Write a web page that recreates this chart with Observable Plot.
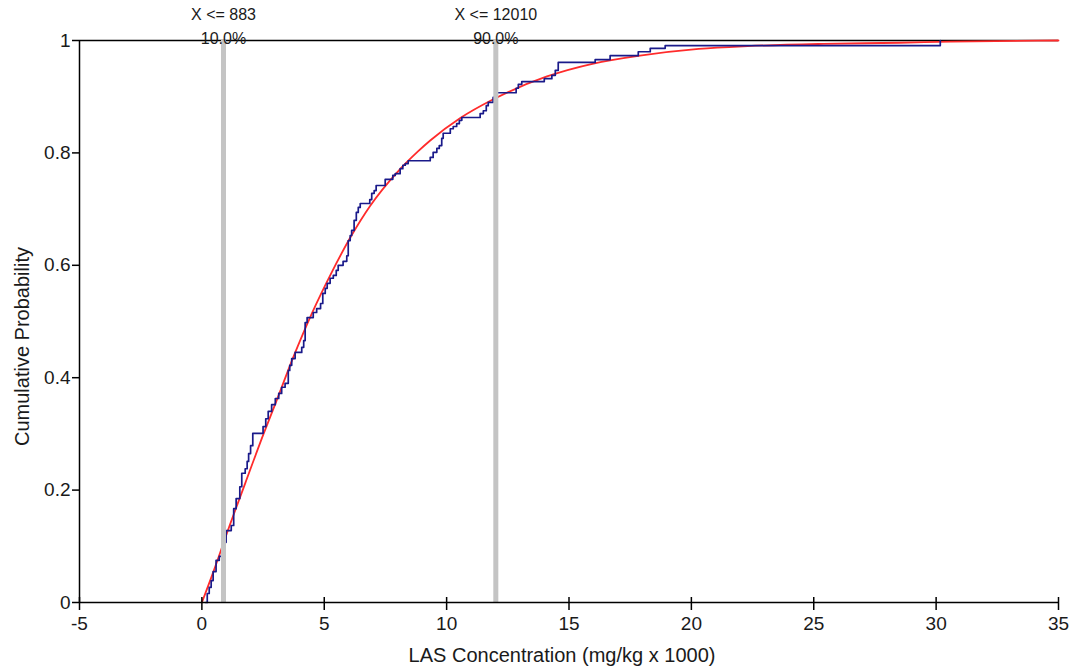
<!DOCTYPE html>
<html>
<head>
<meta charset="utf-8">
<script src="https://cdn.jsdelivr.net/npm/d3@7"></script>
<script src="https://cdn.jsdelivr.net/npm/@observablehq/plot@0.6"></script>
<style>
  html, body { margin: 0; padding: 0; background: #fff; }
  #chart { width: 1073px; height: 666px; }
</style>
</head>
<body>
<div id="chart"></div>
<script>
// Empirical cumulative distribution (step curve)
const ecdfX = [0.16,0.22,0.30,0.38,0.46,0.58,0.71,0.91,0.99,1.20,1.30,1.40,1.55,1.63,1.77,1.85,1.91,1.99,2.08,2.50,2.61,2.71,2.85,3.00,3.14,3.26,3.40,3.53,3.59,3.67,3.81,4.08,4.16,4.22,4.30,4.55,4.69,4.85,4.94,5.04,5.12,5.24,5.37,5.49,5.57,5.77,5.92,5.98,6.06,6.12,6.22,6.31,6.39,6.47,6.86,6.94,7.04,7.12,7.49,7.80,7.90,8.10,8.21,8.31,8.43,9.33,9.45,9.60,9.70,9.80,9.86,10.15,10.27,10.41,10.52,10.62,11.37,11.50,11.62,11.70,11.90,12.03,12.84,12.93,13.07,13.99,14.30,14.44,14.56,16.07,16.68,17.83,18.32,18.93,30.17];
const ecdfP = [0,0.016,0.027,0.039,0.055,0.075,0.082,0.107,0.128,0.137,0.167,0.185,0.206,0.230,0.238,0.251,0.265,0.279,0.301,0.313,0.327,0.340,0.352,0.363,0.372,0.383,0.390,0.413,0.422,0.434,0.445,0.454,0.466,0.498,0.507,0.516,0.523,0.532,0.550,0.559,0.568,0.577,0.582,0.591,0.600,0.607,0.617,0.644,0.653,0.662,0.680,0.694,0.703,0.710,0.717,0.728,0.733,0.742,0.753,0.760,0.763,0.772,0.778,0.781,0.786,0.792,0.801,0.808,0.813,0.826,0.835,0.843,0.847,0.852,0.858,0.863,0.870,0.875,0.884,0.890,0.899,0.907,0.915,0.922,0.927,0.932,0.938,0.947,0.961,0.966,0.973,0.980,0.986,0.991,1.000];

// Fitted distribution (smooth curve)
const fitX = [0,0.54,1.02,1.77,2.52,3.06,3.74,4.5,5.31,6.1,6.88,7.97,8.84,9.33,10.56,11.85,14.1,16.0,17.9,20.3,22.3,25.4,28.5,30.6,35];
const fitP = [0,0.063,0.123,0.212,0.300,0.360,0.437,0.515,0.588,0.652,0.706,0.765,0.803,0.822,0.862,0.894,0.936,0.959,0.973,0.985,0.990,0.994,0.996,0.998,1.0];

// Percentile markers
const pctX = [0.883, 12.01];
const pctValueLabel = ["X <= 883", "X <= 12010"];
const pctProbLabel = ["10.0%", "90.0%"];

// Axes
const xTicks = [-5,0,5,10,15,20,25,30,35];
const yTicks = [0,0.2,0.4,0.6,0.8,1];
const xTitle = "LAS Concentration (mg/kg x 1000)";
const yTitle = "Cumulative Probability";

const ecdf = ecdfX.map((x, i) => ({x, p: ecdfP[i]}));
const fit = fitX.map((x, i) => ({x, p: fitP[i]}));
const pct = pctX.map((x, i) => ({x, v: pctValueLabel[i], q: pctProbLabel[i]}));

const fmt = d => String(+(+d).toFixed(1));

const chart = Plot.plot({
  width: 1073,
  height: 666,
  marginLeft: 79,
  marginRight: 15,
  marginTop: 40,
  marginBottom: 64,
  x: {domain: [-5, 35]},
  y: {domain: [0, 1]},
  style: {fontFamily: "'Liberation Sans', Arial, sans-serif", fontSize: "19px", color: "#1a1a1a", background: "#fff", overflow: "visible"},
  marks: [
    Plot.ruleY([1], {stroke: "#000", strokeWidth: 1.5}),
    Plot.line(fit, {x: "x", y: "p", stroke: "#ff2b2b", strokeWidth: 1.8, curve: "monotone-x"}),
    Plot.line(ecdf, {x: "x", y: "p", stroke: "#1a1a8a", strokeWidth: 1.7, curve: "step-after"}),
    Plot.ruleX(pct, {x: "x", y1: 0, y2: 1, stroke: "#c4c4c4", strokeWidth: 5}),
    Plot.ruleY([0], {stroke: "#000", strokeWidth: 1.5}),
    Plot.ruleX([-5], {stroke: "#000", strokeWidth: 1.5}),
    Plot.axisX({ticks: xTicks, tickSize: 8, tickPadding: 6, tickFormat: fmt, label: null, stroke: "#000", strokeWidth: 1.5}),
    Plot.axisX({ticks: xTicks, tickSize: -5, tickFormat: () => "", label: null, stroke: "#000", strokeWidth: 1.5}),
    Plot.axisY({ticks: yTicks, tickSize: 7, tickPadding: 2, tickFormat: fmt, label: null, stroke: "#000", strokeWidth: 1.5}),
    Plot.text(pct, {x: "x", y: 1, text: "v", dy: -26, fontSize: 16, fill: "#1a1a1a"}),
    Plot.text(pct, {x: "x", y: 1, text: "q", dy: -2, fontSize: 16, fill: "#1a1a1a"}),
    Plot.text([xTitle], {frameAnchor: "bottom", lineAnchor: "middle", textAnchor: "middle", dy: 53, dx: -7, fontSize: 20, fill: "#1a1a1a"}),
    Plot.text([yTitle], {frameAnchor: "left", rotate: -90, textAnchor: "middle", lineAnchor: "middle", dx: -57, dy: 25, fontSize: 20, fill: "#1a1a1a"})
  ]
});
document.getElementById("chart").appendChild(chart);
</script>
</body>
</html>
